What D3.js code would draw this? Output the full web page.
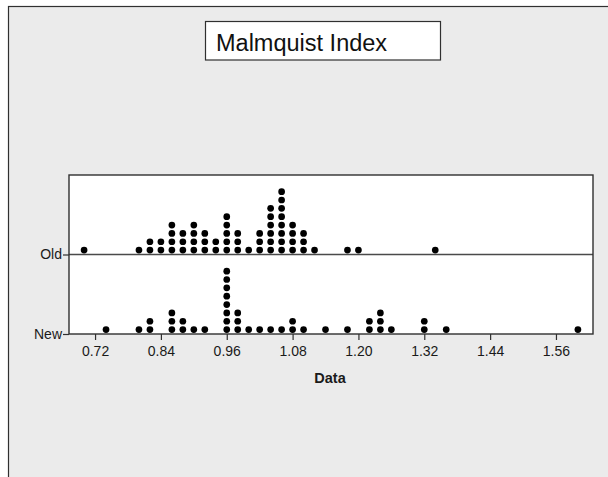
<!DOCTYPE html>
<html>
<head>
<meta charset="utf-8">
<script src="https://cdn.jsdelivr.net/npm/d3@7"></script>
<style>
  html, body { margin: 0; padding: 0; background: #ffffff; }
  svg { display: block; font-family: "Liberation Sans", Arial, sans-serif; }
</style>
</head>
<body>
<svg id="chart" width="608" height="477"></svg>
<script>
// Dotplot of the Malmquist index, binned at 0.02; each dot is one unit.
const groups = ["Old", "New"];

const oldBins   = [0.70, 0.80, 0.82, 0.84, 0.86, 0.88, 0.90, 0.92, 0.94, 0.96, 0.98, 1.00, 1.02, 1.04, 1.06, 1.08, 1.10, 1.12, 1.18, 1.20, 1.34];
const oldCounts = [1,    1,    2,    2,    4,    3,    4,    3,    2,    5,    3,    1,    3,    6,    8,    4,    3,    1,    1,    1,    1];

const newBins   = [0.74, 0.80, 0.82, 0.86, 0.88, 0.90, 0.92, 0.96, 0.98, 1.00, 1.02, 1.04, 1.06, 1.08, 1.10, 1.14, 1.18, 1.22, 1.24, 1.26, 1.32, 1.36, 1.60];
const newCounts = [1,    1,    2,    3,    2,    1,    1,    8,    3,    1,    1,    1,    1,    2,    1,    1,    1,    2,    3,    1,    2,    1,    1];

const xTicks = [0.72, 0.84, 0.96, 1.08, 1.20, 1.32, 1.44, 1.56];
const titleText = "Malmquist Index";
const xTitle = "Data";

const svg = d3.select("#chart");

// outer chart frame
svg.append("rect")
  .attr("x", 8.5).attr("y", 6.5)
  .attr("width", 640).attr("height", 500)
  .attr("fill", "#ebebeb")
  .attr("stroke", "#303030").attr("stroke-width", 1.2);

const panel = { left: 69, right: 593, top: 175, bottom: 334 };

const x = d3.scaleLinear().domain([0.6725, 1.6275]).range([panel.left, panel.right]);
const y = d3.scaleBand().domain(groups).range([panel.top, panel.bottom]).paddingInner(0).paddingOuter(0);
const baseline = g => y(g) + y.bandwidth();

// plot panel
svg.append("rect")
  .attr("x", panel.left).attr("y", panel.top)
  .attr("width", panel.right - panel.left).attr("height", panel.bottom - panel.top)
  .attr("fill", "#ffffff");

// separator line between the two rows
svg.append("line")
  .attr("x1", panel.left).attr("x2", panel.right)
  .attr("y1", baseline("Old")).attr("y2", baseline("Old"))
  .attr("stroke", "#4a4a4a").attr("stroke-width", 1.3);

// expand bins into stacked dots
const dotSpacing = 8.35, dotOffset = 4.4, dotR = 3.35;
function stack(group, bins, counts) {
  const out = [];
  bins.forEach((v, i) => {
    for (let k = 0; k < counts[i]; k++) out.push({ group, value: v, level: k });
  });
  return out;
}
const dots = stack("Old", oldBins, oldCounts).concat(stack("New", newBins, newCounts));

svg.append("g").selectAll("circle")
  .data(dots)
  .join("circle")
  .attr("cx", d => x(d.value))
  .attr("cy", d => baseline(d.group) - dotOffset - d.level * dotSpacing)
  .attr("r", dotR)
  .attr("fill", "#000000");

// panel border
svg.append("rect")
  .attr("x", panel.left).attr("y", panel.top)
  .attr("width", panel.right - panel.left).attr("height", panel.bottom - panel.top)
  .attr("fill", "none")
  .attr("stroke", "#303030").attr("stroke-width", 1.4);

// x axis
const xAxis = svg.append("g")
  .attr("transform", `translate(0,${panel.bottom})`)
  .call(d3.axisBottom(x).tickValues(xTicks).tickFormat(d3.format(".2f")).tickSize(6).tickPadding(6));
xAxis.select(".domain").remove();
xAxis.selectAll(".tick line").attr("stroke", "#303030").attr("stroke-width", 1.2);
xAxis.selectAll(".tick text")
  .attr("fill", "#1a1a1a")
  .style("font-size", "14px")
  .style("font-family", "'Liberation Sans', Arial, sans-serif");

// y axis: one tick per group at its row baseline
const yPos = d3.scaleOrdinal().domain(groups).range(groups.map(baseline));
const yAxis = svg.append("g")
  .attr("transform", `translate(${panel.left},0)`)
  .call(d3.axisLeft(yPos).tickSize(6).tickPadding(1));
yAxis.select(".domain").remove();
yAxis.selectAll(".tick line").attr("stroke", "#303030").attr("stroke-width", 1.2);
yAxis.selectAll(".tick text")
  .attr("fill", "#1a1a1a")
  .style("font-size", "14px")
  .style("font-family", "'Liberation Sans', Arial, sans-serif");

// x axis title
svg.append("text")
  .attr("x", 330).attr("y", 383)
  .attr("text-anchor", "middle")
  .attr("font-size", 14.5).attr("font-weight", "bold")
  .attr("fill", "#1a1a1a")
  .text(xTitle);

// title box
svg.append("rect")
  .attr("x", 205.5).attr("y", 21.5)
  .attr("width", 235).attr("height", 38.5)
  .attr("fill", "#ffffff")
  .attr("stroke", "#303030").attr("stroke-width", 1.2);
svg.append("text")
  .attr("x", 216).attr("y", 51)
  .attr("font-size", 23.5)
  .attr("fill", "#111111")
  .text(titleText);
</script>
</body>
</html>
